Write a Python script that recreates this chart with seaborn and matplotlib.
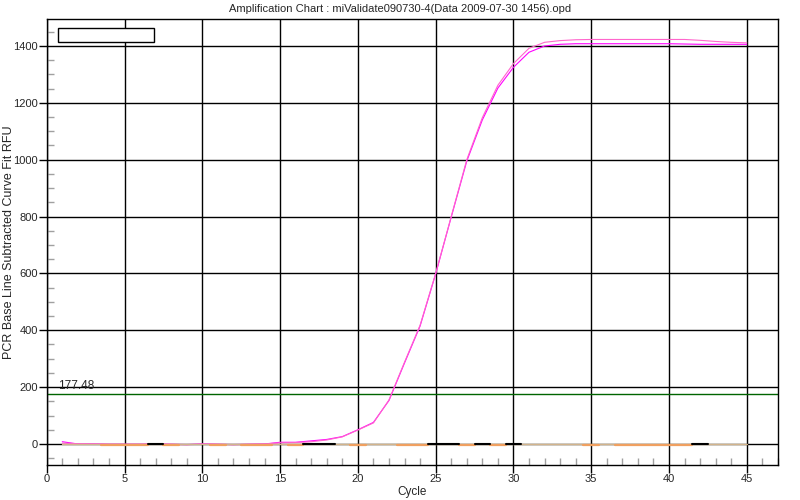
import numpy as np
import pandas as pd
import matplotlib
matplotlib.use("Agg")
import matplotlib.pyplot as plt
import seaborn as sns
from matplotlib import font_manager
from matplotlib.patches import Rectangle
from matplotlib.ticker import MultipleLocator

cycles = list(range(1, 46))

# positive wells (baseline subtracted curve fit RFU)
well_a = [3, 1, 0, -1, -1, -1, 0, -1, -3, 0, -1, -3, -1, 0, 4, 5, 8, 14, 25, 49,
          74, 155, 288, 418, 600, 800, 1000, 1148, 1262, 1338, 1392, 1413, 1419, 1422, 1423,
          1423, 1423, 1423, 1423, 1423, 1423, 1420, 1416, 1413, 1411]
well_b = [8, 0, 0, -1, -1, -1, 0, -1, -2, 0, -1, -2, -1, 0, 6, 6, 11, 16, 26, 50,
          76, 153, 285, 415, 598, 798, 995, 1140, 1252, 1325, 1378, 1400, 1406, 1408, 1408,
          1408, 1408, 1408, 1408, 1408, 1407, 1406, 1406, 1406, 1406]

# negative wells, flat at zero (nan = hidden behind another trace)
n = np.nan
well_tan = [0] * 45
well_orange = [n, n, n, -4, -4, -4, n, -4, n, n, -4, n, -4, -4, n, -4, n, n, n, -4,
               n, n, -4, -4, n, n, -4, n, -4, n, n, n, n, n, -4,
               n, -4, -4, -4, -4, -4, n, n, n, n]
well_black = [n, n, n, n, n, n, 0, n, n, n, n, n, n, n, n, n, 0, 0, n, n,
              n, n, n, n, 0, 0, n, 0, n, 0, n, n, n, n, n,
              n, n, n, n, n, n, 0, n, n, n]

threshold = 177.48
title = "Amplification Chart : miValidate090730-4(Data 2009-07-30 1456).opd"

sns.set_style("white")
plt.rcParams['font.family'] = ['Liberation Sans', 'DejaVu Sans']

# narrower face for the tick numbers if there is one
names = {f.name for f in font_manager.fontManager.ttflist}
if "Liberation Sans Narrow" in names:
    tick_font, tick_size = "Liberation Sans Narrow", 8.5
else:
    tick_font, tick_size = "Liberation Sans", 8

fig = plt.figure(figsize=(8, 5), dpi=100)
ax = fig.add_axes([0.0584, 0.0694, 0.914, 0.8926])

df = pd.DataFrame({"Cycle": cycles, "a": well_a, "b": well_b})
sns.lineplot(data=df, x="Cycle", y="b", color="#FF00FF", lw=0.8, ax=ax, zorder=3)
sns.lineplot(data=df, x="Cycle", y="a", color="#FF66CC", lw=0.8, ax=ax, zorder=3)

ax.plot(cycles, well_tan, drawstyle="steps-mid", color="#D2B48C", lw=1, zorder=4)
ax.plot(cycles, well_orange, drawstyle="steps-mid", color="#F0A060", lw=1.6, zorder=4)
ax.plot(cycles, well_black, drawstyle="steps-mid", color="black", lw=1.5, zorder=4)

ax.axhline(threshold, color="#006400", lw=1, zorder=2)
ax.text(0.75, threshold + 4, f"{threshold:.2f}", fontsize=8.5, va="bottom", ha="left")

ax.set_xlim(0, 47)
ax.set_ylim(-75, 1495)
ax.xaxis.set_major_locator(MultipleLocator(5))
ax.xaxis.set_minor_locator(MultipleLocator(1))
ax.yaxis.set_major_locator(MultipleLocator(200))
ax.yaxis.set_minor_locator(MultipleLocator(50))
ax.tick_params(which="major", direction="out", length=5.5, width=1, color="black",
               labelsize=tick_size, pad=1, bottom=True, left=True)
ax.tick_params(which="minor", direction="in", length=5, width=1, color="#A0A0A0",
               bottom=True, left=True)
for lab in ax.get_xticklabels() + ax.get_yticklabels():
    lab.set_fontfamily(tick_font)
ax.grid(True, which="major", color="black", lw=1)
ax.set_axisbelow(True)
for s in ax.spines.values():
    s.set_color("black")
    s.set_linewidth(1)

ax.add_patch(Rectangle((0.0159, 0.948), 0.131, 0.031, transform=ax.transAxes,
                       facecolor="white", edgecolor="black", lw=1, zorder=6))

ax.set_xlabel("Cycle", fontsize=8.5, labelpad=1)
ax.set_ylabel("PCR Base Line Subtracted Curve Fit RFU", fontsize=9)
ax.yaxis.set_label_coords(-0.043, 0.5)
fig.text(0.5, 0.983, title, ha="center", va="center", fontsize=8)

fig.savefig("out.png", dpi=100)
